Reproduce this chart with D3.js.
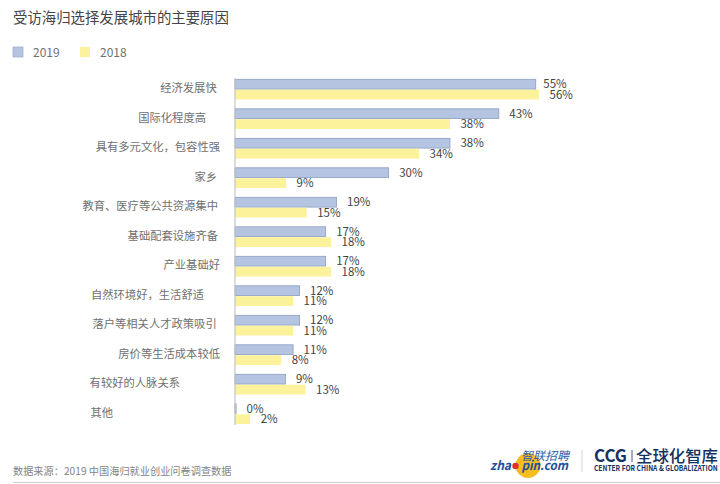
<!DOCTYPE html>
<html>
<head>
<meta charset="utf-8">
<script src="https://cdn.jsdelivr.net/npm/d3@7"></script>
<style>
  html, body { margin: 0; padding: 0; background: #fff; }
  svg { display: block; }
  text { font-family: "Noto Sans CJK SC", "Noto Sans", sans-serif; }
</style>
</head>
<body>
<div id="chart"></div>
<script>
const categories = ['经济发展快', '国际化程度高', '具有多元文化，包容性强', '家乡', '教育、医疗等公共资源集中', '基础配套设施齐备',
    '产业基础好', '自然环境好，生活舒适', '落户等相关人才政策吸引', '房价等生活成本较低', '有较好的人脉关系', '其他'];
const seriesNames = ['2019', '2018'];

// bar lengths as drawn in the picture (they do not follow the printed labels exactly)
const values2019 = [55.4, 48.6, 39.6, 28.3, 18.7, 16.7, 16.7, 11.9, 11.9, 10.7, 9.3, 0.2];
const values2018 = [56, 39.6, 33.9, 9.4, 13.2, 17.7, 17.7, 10.7, 10.7, 8.5, 13, 2.8];

// printed labels
const labels2019 = ['55%', '43%', '38%', '30%', '19%', '17%', '17%', '12%', '12%', '11%', '9%', '0%'];
const labels2018 = ['56%', '38%', '34%', '9%', '15%', '18%', '18%', '11%', '11%', '8%', '13%', '2%'];

// the category labels are not aligned in the original, so each has its own right edge
const labelRight = [216.7, 206, 220, 217, 218, 218, 220, 204, 216.7, 220, 180, 113];

const colors = { '2019': '#b4c4e1', '2018': '#fbf29b' };
const NUM_FONT = 'Lato, "Noto Sans", sans-serif';

const svg = d3.select('#chart').append('svg')
    .attr('width', 720)
    .attr('height', 484);

// Scales
const x = d3.scaleLinear().domain([0, 56]).range([235, 539]);
const y0 = d3.scaleBand().domain(categories).range([79.3, 424]).paddingInner(0.315).paddingOuter(0);
const y1 = d3.scaleBand().domain(seriesNames).range([0, y0.bandwidth()]).paddingInner(0.06);

// Title
svg.append('text')
    .attr('x', 13).attr('y', 23)
    .attr('font-size', 14.4)
    .attr('fill', '#444')
    .text('受访海归选择发展城市的主要原因');

// Legend
const legendX = { '2019': 13, '2018': 80 };
seriesNames.forEach(name => {
    svg.append('rect')
        .attr('x', legendX[name]).attr('y', 47)
        .attr('width', 10).attr('height', 10)
        .attr('fill', colors[name])
        .attr('stroke', name === '2019' ? '#9aabcb' : 'none')
        .attr('stroke-width', 0.7);
    svg.append('text')
        .attr('x', legendX[name] + 20).attr('y', 56.5)
        .attr('font-family', NUM_FONT)
        .attr('font-size', 12)
        .attr('fill', '#707070')
        .text(name);
});

// Bars
function drawSeries(name, values, labels) {
    const g = svg.append('g');
    g.selectAll('rect')
        .data(categories)
        .enter()
        .append('rect')
        .attr('x', x(0))
        .attr('y', d => y0(d) + y1(name))
        .attr('width', (d, i) => x(values[i]) - x(0))
        .attr('height', y1.bandwidth())
        .attr('fill', colors[name])
        .attr('stroke', name === '2019' ? '#8d9ec2' : 'none')
        .attr('stroke-width', 0.8);

    g.selectAll('text')
        .data(categories)
        .enter()
        .append('text')
        .attr('x', (d, i) => x(values[i]) + (labels[i] === '55%' ? 7.6 : 10.5))
        .attr('y', d => y0(d) + y1(name) + y1.bandwidth() / 2 + 4)
        .attr('font-family', NUM_FONT)
        .attr('font-size', 11.5)
        .attr('fill', '#444')
        .text((d, i) => labels[i]);
}
drawSeries('2019', values2019, labels2019);
drawSeries('2018', values2018, labels2018);

// Axis line
svg.append('line')
    .attr('x1', x(0)).attr('x2', x(0))
    .attr('y1', 78).attr('y2', 425)
    .attr('stroke', '#c4c4c4')
    .attr('stroke-width', 1.2);

// Category labels
svg.append('g').selectAll('text')
    .data(categories)
    .enter()
    .append('text')
    .attr('x', (d, i) => labelRight[i])
    .attr('y', d => y0(d) + y0.bandwidth() / 2 + 3)
    .attr('text-anchor', 'end')
    .attr('font-size', 11.3)
    .attr('fill', '#707070')
    .text(d => d);

// Source note and bottom rule
svg.append('text')
    .attr('x', 13).attr('y', 475)
    .attr('font-size', 10.2)
    .attr('fill', '#858585')
    .text('数据来源：2019 中国海归就业创业问卷调查数据');
svg.append('line')
    .attr('x1', 13).attr('x2', 720)
    .attr('y1', 482.5).attr('y2', 482.5)
    .attr('stroke', '#cfcfcf');

// Logos
drawZhaopinLogo();
drawCcgLogo();

function drawZhaopinLogo() {
    svg.append('circle').attr('cx', 528).attr('cy', 465.5).attr('r', 12.5).attr('fill', '#f6bd22');
    svg.append('circle').attr('cx', 515.5).attr('cy', 466).attr('r', 3.2).attr('fill', '#d8342a');
    svg.append('text')
        .attr('x', 521).attr('y', 460)
        .attr('font-size', 11.5).attr('font-style', 'italic').attr('fill', '#2a5caa')
        .attr('textLength', 48).attr('lengthAdjust', 'spacingAndGlyphs')
        .text('智联招聘');
    svg.append('text')
        .attr('x', 490).attr('y', 470)
        .attr('font-family', '"Liberation Sans", sans-serif')
        .attr('font-size', 12.5).attr('font-weight', 700).attr('font-style', 'italic').attr('fill', '#1f4f9c')
        .attr('textLength', 21).attr('lengthAdjust', 'spacingAndGlyphs')
        .text('zha');
    svg.append('text')
        .attr('x', 521.5).attr('y', 470)
        .attr('font-family', '"Liberation Sans", sans-serif')
        .attr('font-size', 12.5).attr('font-weight', 700).attr('font-style', 'italic').attr('fill', '#1f4f9c')
        .attr('textLength', 46.5).attr('lengthAdjust', 'spacingAndGlyphs')
        .text('pin.com');
    svg.append('line')
        .attr('x1', 582).attr('x2', 582).attr('y1', 450).attr('y2', 472)
        .attr('stroke', '#d5d5d5');
}

function drawCcgLogo() {
    const navy = '#14315f';
    svg.append('text')
        .attr('x', 594).attr('y', 461.5)
        .attr('font-family', '"Liberation Sans", sans-serif')
        .attr('font-size', 17).attr('font-weight', 700).attr('fill', navy)
        .attr('textLength', 33).attr('lengthAdjust', 'spacingAndGlyphs')
        .text('CCG');
    svg.append('line')
        .attr('x1', 632).attr('x2', 632).attr('y1', 450).attr('y2', 462)
        .attr('stroke', navy).attr('stroke-width', 0.8);
    svg.append('text')
        .attr('x', 636).attr('y', 461.5)
        .attr('font-size', 16).attr('font-weight', 500).attr('fill', navy)
        .attr('textLength', 82).attr('lengthAdjust', 'spacingAndGlyphs')
        .text('全球化智库');
    // squeezed with a transform so the line stays inside the page width
    svg.append('text')
        .attr('transform', 'translate(594,471) scale(0.83,1)')
        .attr('font-family', '"Liberation Sans Narrow", "Liberation Sans", sans-serif')
        .attr('font-size', 8).attr('font-weight', 700).attr('fill', navy)
        .text('CENTER FOR CHINA & GLOBALIZATION');
}
</script>
</body>
</html>
